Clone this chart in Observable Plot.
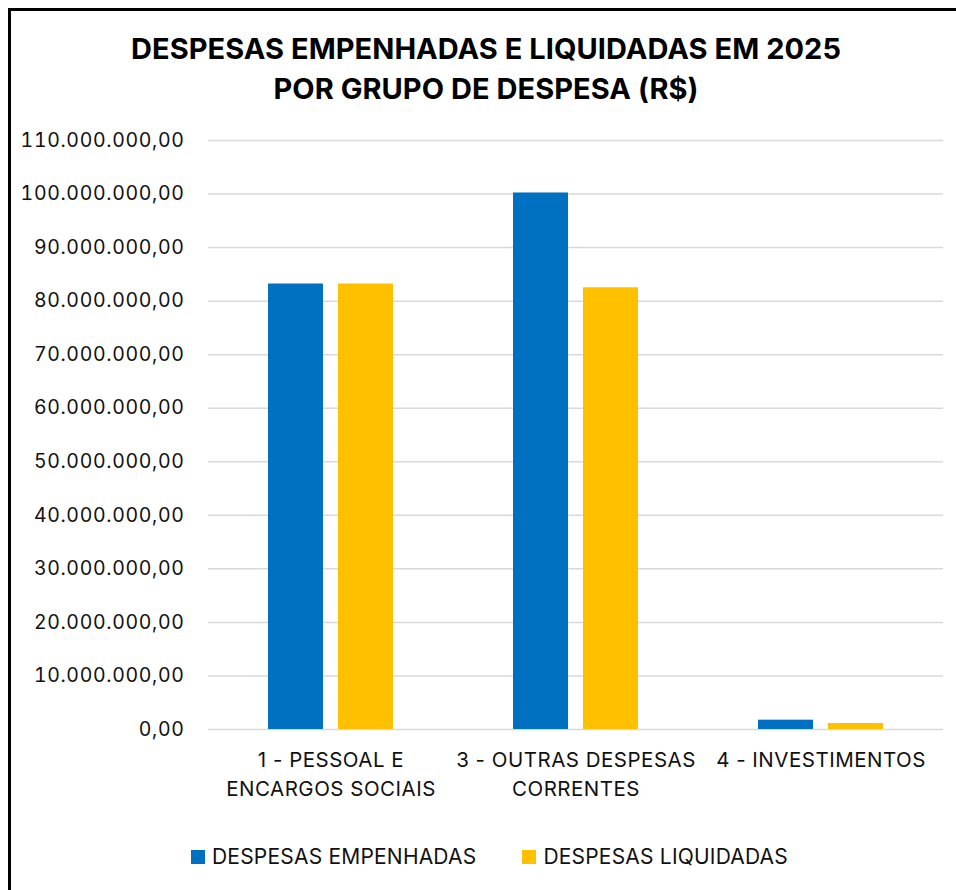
<!DOCTYPE html>
<html>
<head>
<meta charset="utf-8">
<script src="https://cdn.jsdelivr.net/npm/d3@7"></script>
<script src="https://cdn.jsdelivr.net/npm/@observablehq/plot@0.6"></script>
<style>
  html, body { margin: 0; padding: 0; background: #fff; width: 956px; height: 890px; overflow: hidden; }
  #frame { position: absolute; left: 8px; top: 8px; width: 1000px; height: 1000px; border-left: 3px solid #000; border-top: 3px solid #000; }
  #title { position: absolute; left: 8px; top: 29px; width: 956px; text-align: center; font-family: Inter, sans-serif; font-weight: 700; font-size: 29px; letter-spacing: 0.05px; line-height: 40px; color: #000; }
  #chart { position: absolute; left: 0; top: 120px; }
  #legend { position: absolute; left: 191px; top: 844px; font-family: Inter, sans-serif; font-size: 21px; letter-spacing: 0.2px; color: #111; display: flex; gap: 0; }
  .item { display: flex; align-items: center; margin-right: 46px; }
  .sw { width: 14px; height: 14px; display: inline-block; margin-right: 7px; }
  g[aria-label="y-axis tick label"] text { letter-spacing: 0.65px; }
  g[aria-label="fx-axis tick label"] text { letter-spacing: 0.5px; }
</style>
</head>
<body>
<div id="frame"></div>
<div id="title">DESPESAS EMPENHADAS E LIQUIDADAS EM 2025<br>POR GRUPO DE DESPESA (R$)</div>
<div id="chart"></div>
<div id="legend"></div>
<script>
const categories = ["1 - PESSOAL E\nENCARGOS SOCIAIS", "3 - OUTRAS DESPESAS\nCORRENTES", "4 - INVESTIMENTOS"];
const series = ["DESPESAS EMPENHADAS", "DESPESAS LIQUIDADAS"];
const empenhadas = [83200000, 100200000, 1740000];
const liquidadas = [83200000, 82500000, 1120000];
const colors = ["#0070C0", "#FFC000"];
const yTicks = [0, 10e6, 20e6, 30e6, 40e6, 50e6, 60e6, 70e6, 80e6, 90e6, 100e6, 110e6];

const rows = [];
categories.forEach((c, i) => {
  rows.push({cat: c, serie: series[0], value: empenhadas[i]});
  rows.push({cat: c, serie: series[1], value: liquidadas[i]});
});

const br = d3.formatLocale({decimal: ",", thousands: ".", grouping: [3], currency: ["R$", ""]});
const fmt = br.format(",.2f");

const chart = Plot.plot({
  width: 956,
  height: 700,
  marginLeft: 208,
  marginRight: 13,
  marginTop: 20,
  marginBottom: 91,
  style: {fontFamily: "Inter, sans-serif", color: "#111", background: "transparent"},
  fx: {domain: categories, padding: 0, label: null},
  x: {domain: series, paddingInner: 0.214, paddingOuter: 0.857, axis: null},
  y: {domain: [0, 110e6], label: null},
  color: {domain: series, range: colors},
  marks: [
    Plot.gridY(yTicks, {stroke: "#d9d9d9", strokeOpacity: 1, strokeWidth: 1.5}),
    Plot.axisY(yTicks, {tickFormat: fmt, tickSize: 0, tickPadding: 24, fontSize: 19.5, label: null}),
    Plot.axisFx({anchor: "bottom", tickSize: 0, tickPadding: 17, fontSize: 20.5, lineHeight: 1.42, label: null}),
    Plot.barY(rows, {fx: "cat", x: "serie", y: "value", fill: "serie"})
  ]
});
document.getElementById("chart").appendChild(chart);

const legend = document.getElementById("legend");
series.forEach((s, i) => {
  const it = document.createElement("div");
  it.className = "item";
  const sw = document.createElement("span");
  sw.className = "sw";
  sw.style.background = colors[i];
  const t = document.createElement("span");
  t.textContent = s;
  it.appendChild(sw);
  it.appendChild(t);
  legend.appendChild(it);
});
</script>
</body>
</html>
